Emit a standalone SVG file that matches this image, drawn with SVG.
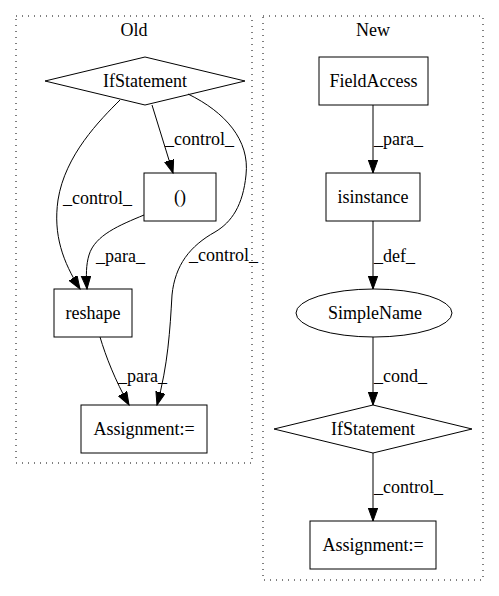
<svg xmlns="http://www.w3.org/2000/svg" width="499" height="596" viewBox="0 0 499 596">
<style>
text{font-family:"Liberation Serif","Times New Roman",serif;font-size:18px;fill:#000}
.c{text-anchor:middle}
.node{fill:none;stroke:#000;stroke-width:1}
.edge{fill:none;stroke:#000;stroke-width:1;marker-end:url(#ah)}
.cluster{fill:none;stroke:#000;stroke-dasharray:1,5}
</style>
<defs>
<marker id="ah" markerWidth="14" markerHeight="11" refX="13" refY="5" orient="auto" markerUnits="userSpaceOnUse">
<polygon points="0,0.3 13,5 0,9.7" fill="#000" stroke="#000"/>
</marker>
</defs>
<rect width="499" height="596" fill="#fff"/>
<g id="cluster_old">
<rect class="cluster" x="16" y="16" width="236" height="447"/>
<text class="c" x="134" y="36">Old</text>
</g>
<g id="cluster_new">
<rect class="cluster" x="263" y="16" width="220" height="564"/>
<text class="c" x="373" y="36">New</text>
</g>
<g id="connectors">
<path class="edge" d="M152,105 L173,173"/>
<text x="165" y="145">_control_</text>
<path class="edge" d="M120,100 C100,120 65,155 58,200 C53,235 63,262 80,289"/>
<text x="63" y="204">_control_</text>
<path class="edge" d="M188,94 C225,112 250,140 246,175 C243,205 232,222 215,232 C190,246 175,265 172,295 C170,330 168,365 157,405"/>
<text x="189" y="261">_control_</text>
<path class="edge" d="M144,215 C120,225 95,235 89,255 C86,265 86,275 87,289"/>
<text x="96" y="262">_para_</text>
<path class="edge" d="M100,337 C106,357 115,380 129,405"/>
<text x="118" y="382">_para_</text>
<path class="edge" d="M373,105 L373,173"/>
<text x="374" y="145">_para_</text>
<path class="edge" d="M373,221 L373,289"/>
<text x="374" y="262">_def_</text>
<path class="edge" d="M373,337 L373,405"/>
<text x="374" y="382">_cond_</text>
<path class="edge" d="M373,453 L373,521"/>
<text x="374" y="493">_control_</text>
</g>
<g id="old_ifstatement">
<polygon class="node" points="145,57 245,81 145,105 45,81"/>
<text class="c" x="145" y="87">IfStatement</text>
</g>
<g id="old_paren">
<rect class="node" x="144" y="173" width="72" height="48"/>
<text class="c" x="180" y="203">()</text>
</g>
<g id="old_reshape">
<rect class="node" x="54" y="289" width="78" height="48"/>
<text class="c" x="93" y="319">reshape</text>
</g>
<g id="old_assignment">
<rect class="node" x="81" y="405" width="126" height="48"/>
<text class="c" x="144" y="435">Assignment:=</text>
</g>
<g id="new_fieldaccess">
<rect class="node" x="319" y="57" width="109" height="48"/>
<text class="c" x="373.5" y="87">FieldAccess</text>
</g>
<g id="new_isinstance">
<rect class="node" x="326" y="173" width="94" height="48"/>
<text class="c" x="373" y="203">isinstance</text>
</g>
<g id="new_simplename">
<ellipse class="node" cx="374" cy="313" rx="78" ry="24"/>
<text class="c" x="375" y="319">SimpleName</text>
</g>
<g id="new_ifstatement">
<polygon class="node" points="373,405 472,429 373,453 274,429"/>
<text class="c" x="373" y="435">IfStatement</text>
</g>
<g id="new_assignment">
<rect class="node" x="310" y="521" width="126" height="48"/>
<text class="c" x="373" y="551">Assignment:=</text>
</g>
</svg>
